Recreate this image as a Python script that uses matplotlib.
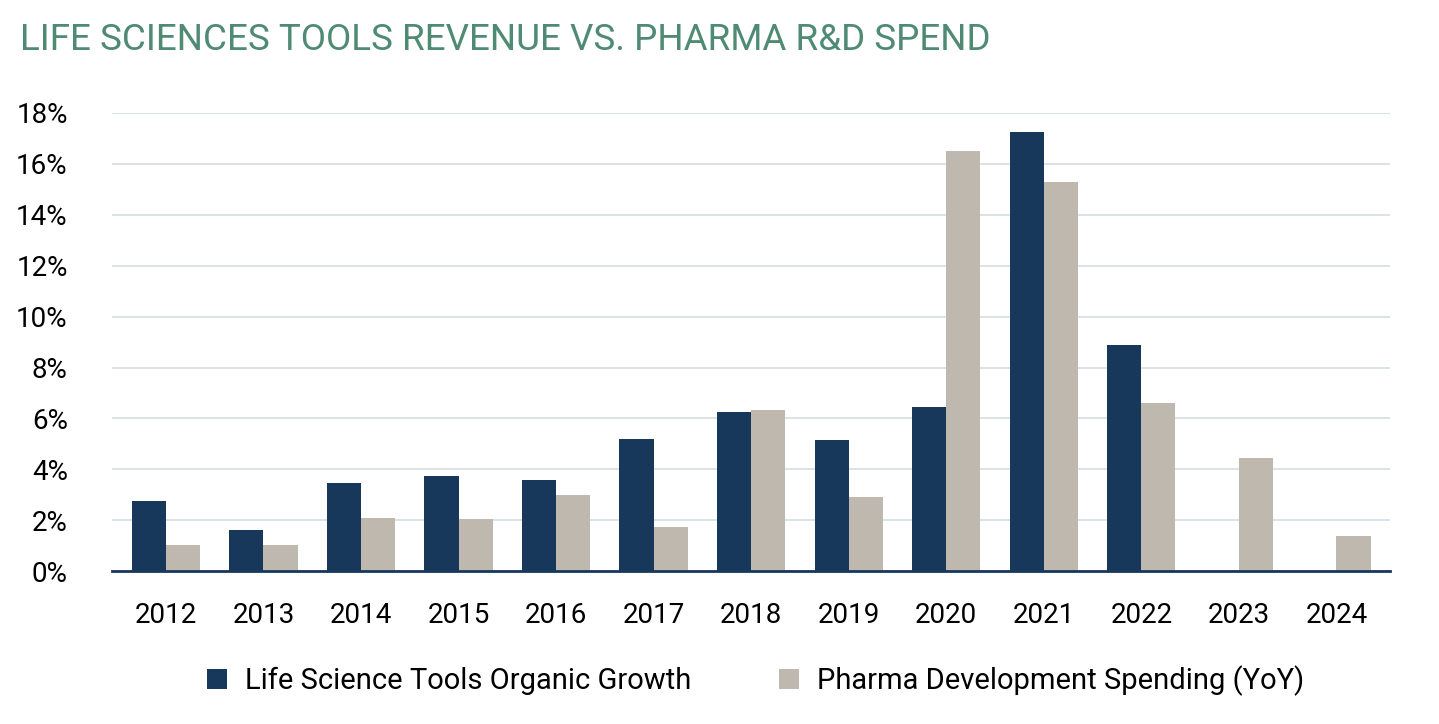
import matplotlib
matplotlib.use("Agg")
import matplotlib.pyplot as plt
import numpy as np

years = ["2012","2013","2014","2015","2016","2017","2018","2019","2020","2021","2022","2023","2024"]
tools_growth = [2.75,1.6,3.45,3.75,3.6,5.2,6.25,5.15,6.45,17.25,8.9,0,0]
pharma_spend = [1.05,1.05,2.1,2.05,3.0,1.75,6.35,2.9,16.5,15.3,6.6,4.45,1.4]

plt.rcParams['font.family'] = ['Roboto', 'DejaVu Sans']
fig = plt.figure(figsize=(14.39,7.24), dpi=100)
ax = fig.add_axes([0.078,0.211,0.888,0.633])
x = np.arange(len(years))
w = 0.35
navy = "#17375B"; grey = "#BFB8AF"
ax.bar(x-w/2, tools_growth, w, color=navy, label="Life Science Tools Organic Growth")
ax.bar(x+w/2, pharma_spend, w, color=grey, label="Pharma Development Spending (YoY)")
ax.set_ylim(0,18)
ax.set_xlim(-0.55, len(years)-0.45)
ax.set_yticks(range(0,19,2))
ax.set_yticklabels([f"{v}%" for v in range(0,19,2)], fontsize=20)
ax.set_xticks(x)
ax.set_xticklabels(years, fontsize=20)
ax.tick_params(axis='x', length=0, pad=22)
ax.tick_params(axis='y', length=0, pad=32)
ax.grid(axis='y', color="#D5DEE3", linewidth=1.2)
ax.set_axisbelow(True)
for s in ["top","right","left"]:
    ax.spines[s].set_visible(False)
ax.spines["bottom"].set_color(navy)
ax.spines["bottom"].set_linewidth(2)
fig.text(0.014, 0.945, "LIFE SCIENCES TOOLS REVENUE VS. PHARMA R&D SPEND", fontsize=26.5, color="#4F8A74", va="center")
fig.legend(loc="center", bbox_to_anchor=(0.525,0.06), ncol=2, frameon=False, fontsize=21,
           handlelength=0.7, handleheight=0.7, columnspacing=3, handletextpad=0.6)
fig.savefig("out.png", dpi=100)
